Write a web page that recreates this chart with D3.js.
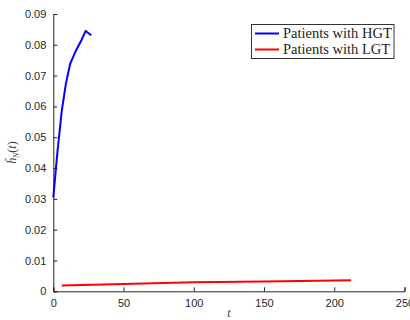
<!DOCTYPE html>
<html><head><meta charset="utf-8">
<script src="https://cdn.jsdelivr.net/npm/d3@7"></script>
<style>body{margin:0;background:#fff}</style>
</head><body>
<svg id="c" width="410" height="320"></svg>
<script>
const hgtT = [0, 3, 6, 9, 12, 16, 20, 23, 27];
const hgtV = [0.0305, 0.0455, 0.0585, 0.0675, 0.0738, 0.0780, 0.0815, 0.0845, 0.0831];
const lgtT = [6, 50, 100, 150, 212];
const lgtV = [0.0019, 0.0024, 0.0029, 0.0032, 0.0036];
const xTicks = [0, 50, 100, 150, 200, 250];
const yTicks = [0, 0.01, 0.02, 0.03, 0.04, 0.05, 0.06, 0.07, 0.08, 0.09];
const seriesNames = ["Patients with HGT", "Patients with LGT"];
const seriesColors = ["#0000ff", "#ff0000"];

const svg = d3.select("#c");
const x = d3.scaleLinear().domain([0, 250]).range([53.3, 404.5]);
const y = d3.scaleLinear().domain([0, 0.09]).range([291.3, 14]);
const axCol = "#262626";

const gx = svg.append("g").attr("transform", `translate(0,${y(0)})`)
  .call(d3.axisBottom(x).tickValues(xTicks).tickSize(-4).tickPadding(8).tickFormat(d3.format("d")));
const gy = svg.append("g").attr("transform", `translate(${x(0)},0)`)
  .call(d3.axisLeft(y).tickValues(yTicks).tickSize(-4).tickPadding(7).tickFormat(d => d === 0 ? "0" : d3.format(".2f")(d)));
[gx, gy].forEach(g => {
  g.select(".domain").attr("stroke", axCol).attr("stroke-width", 1);
  g.selectAll(".tick line").attr("stroke", axCol);
  g.selectAll(".tick text").attr("fill", axCol).attr("font-family", "Liberation Sans, Arial, sans-serif").attr("font-size", 11);
});

const line = d3.line().x(d => x(d[0])).y(d => y(d[1]));
svg.append("path").datum(hgtT.map((t, i) => [t, hgtV[i]]))
  .attr("d", line).attr("fill", "none").attr("stroke", seriesColors[0]).attr("stroke-width", 2);
svg.append("path").datum(lgtT.map((t, i) => [t, lgtV[i]]))
  .attr("d", line).attr("fill", "none").attr("stroke", seriesColors[1]).attr("stroke-width", 2);

// axis labels
svg.append("text").attr("x", x(125)).attr("y", 317).attr("text-anchor", "middle")
  .attr("font-family", "Liberation Serif, serif").attr("font-style", "italic").attr("font-size", 12)
  .attr("fill", "#444").text("t");
const yl = svg.append("text").attr("transform", `translate(16,${y(0.045)}) rotate(-90)`)
  .attr("text-anchor", "middle").attr("font-family", "Liberation Serif, serif").attr("font-size", 12).attr("fill", "#444");
yl.append("tspan").attr("font-style", "italic").text("ĥ");
yl.append("tspan").attr("font-style", "italic").attr("font-size", 8).attr("dy", 3).text("N");
yl.append("tspan").attr("dy", -3).text("(");
yl.append("tspan").attr("font-style", "italic").text("t");
yl.append("tspan").text(")");

// legend
const lg = svg.append("g");
lg.append("rect").attr("x", 251.5).attr("y", 24.5).attr("width", 142.5).attr("height", 34)
  .attr("fill", "#fff").attr("stroke", "#333").attr("stroke-width", 1);
seriesNames.forEach((n, i) => {
  const yy = 33.5 + i * 16;
  lg.append("line").attr("x1", 255).attr("x2", 279).attr("y1", yy).attr("y2", yy)
    .attr("stroke", seriesColors[i]).attr("stroke-width", 2);
  lg.append("text").attr("x", 283).attr("y", yy + 4.5).attr("font-family", "Liberation Serif, serif")
    .attr("font-size", 14.5).attr("fill", "#222").text(n);
});
</script>
</body></html>
